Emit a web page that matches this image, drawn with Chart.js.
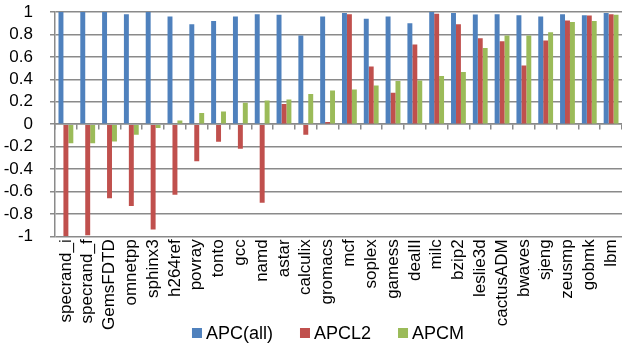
<!DOCTYPE html>
<html>
<head>
<meta charset="utf-8">
<script src="https://cdn.jsdelivr.net/npm/chart.js@4/dist/chart.umd.min.js"></script>
<style>
  html, body { margin: 0; padding: 0; background: #fff; width: 622px; height: 344px; overflow: hidden; }
  #wrap { position: absolute; left: 0; top: 0; width: 656px; height: 344px; }
</style>
</head>
<body>
<div id="wrap"><canvas id="chart" width="656" height="344"></canvas></div>
<script>
// Benchmarks, ordered by APCM
const categories = ['specrand_i', 'specrand_f', 'GemsFDTD', 'omnetpp', 'sphinx3', 'h264ref',
  'povray', 'tonto', 'gcc', 'namd', 'astar', 'calculix', 'gromacs', 'mcf', 'soplex', 'gamess',
  'dealII', 'milc', 'bzip2', 'leslie3d', 'cactusADM', 'bwaves', 'sjeng', 'zeusmp', 'gobmk', 'lbm'];

const apcAll = [1.0, 1.0, 1.0, 0.98, 1.0, 0.96, 0.89, 0.92, 0.96, 0.98, 0.975, 0.79, 0.96,
  0.99, 0.94, 0.96, 0.90, 1.0, 0.99, 0.977, 0.98, 0.97, 0.96, 0.98, 0.97, 0.99];

const apcL2 = [-1.0, -0.99, -0.66, -0.73, -0.94, -0.63, -0.33, -0.157, -0.22, -0.70, 0.18, -0.095,
  0.02, 0.98, 0.515, 0.28, 0.71, 0.985, 0.89, 0.765, 0.74, 0.524, 0.745, 0.925, 0.968, 0.98];

const apcM = [-0.17, -0.17, -0.155, -0.095, -0.035, 0.033, 0.10, 0.113, 0.19, 0.21, 0.22, 0.27,
  0.30, 0.31, 0.345, 0.385, 0.39, 0.43, 0.465, 0.68, 0.79, 0.79, 0.82, 0.91, 0.92, 0.975];

const seriesNames = ['APC(all)', 'APCL2', 'APCM'];
const yTickLabels = ['-1', '-0.8', '-0.6', '-0.4', '-0.2', '0', '0.2', '0.4', '0.6', '0.8', '1'];

const FONT = '"Liberation Sans", Arial, sans-serif';
const GRID = '#8a8a8a';

// Legend drawn as a single centred row under the axis labels
const bottomLegend = {
  id: 'bottomLegend',
  afterDraw(chart) {
    const ctx = chart.ctx;
    ctx.save();
    ctx.font = '18px ' + FONT;
    ctx.textBaseline = 'middle';
    const box = 10, gapText = 4, gapItem = 27;
    const items = chart.data.datasets.map(d => ({
      text: d.label, color: d.backgroundColor, w: ctx.measureText(d.label).width
    }));
    const total = items.reduce((s, it) => s + box + gapText + it.w, 0) + gapItem * (items.length - 1);
    let x = chart.width / 2 - total / 2;
    const y = 333;
    items.forEach(it => {
      ctx.fillStyle = it.color;
      ctx.fillRect(x, y - box / 2, box, box);
      ctx.fillStyle = '#000';
      ctx.fillText(it.text, x + box + gapText, y + 1);
      x += box + gapText + it.w + gapItem;
    });
    ctx.restore();
  }
};

new Chart(document.getElementById('chart'), {
  type: 'bar',
  data: {
    labels: categories,
    datasets: [
      { label: seriesNames[0], data: apcAll, backgroundColor: '#4F81BD' },
      { label: seriesNames[1], data: apcL2, backgroundColor: '#C0504D' },
      { label: seriesNames[2], data: apcM, backgroundColor: '#9BBB59' }
    ]
  },
  options: {
    responsive: false,
    animation: false,
    layout: { padding: { left: 0, right: 34, top: 0, bottom: 11 } },
    datasets: { bar: { categoryPercentage: 0.68, barPercentage: 1.0 } },
    plugins: {
      legend: { display: false },
      tooltip: { enabled: false }
    },
    scales: {
      x: {
        grid: { display: false, drawTicks: false },
        border: { display: false },
        ticks: {
          autoSkip: false, minRotation: 90, maxRotation: 90,
          color: '#000', padding: 3,
          font: { family: FONT, size: 17 }
        }
      },
      // category axis sitting on the zero line, with tick marks between groups
      xZero: {
        type: 'category',
        position: { y: 0 },
        offset: true,
        grid: { offset: true, drawOnChartArea: false, drawTicks: true, tickLength: 5, color: GRID, lineWidth: 1.5 },
        border: { color: GRID, width: 1.5 },
        ticks: { display: false }
      },
      y: {
        min: -1, max: 1,
        ticks: {
          stepSize: 0.2,
          autoSkip: false,
          color: '#000',
          padding: 17,
          font: { family: FONT, size: 17 },
          callback: (v) => yTickLabels[Math.round((v + 1) / 0.2)]
        },
        grid: { color: GRID, lineWidth: 1.5, tickLength: 5 },
        border: { color: GRID, width: 1.5 },
        afterFit(scale) {
          scale.width = 55;
          scale.paddingTop = 12;
          scale.paddingBottom = 10;
        }
      }
    }
  },
  plugins: [bottomLegend]
});
</script>
</body>
</html>
